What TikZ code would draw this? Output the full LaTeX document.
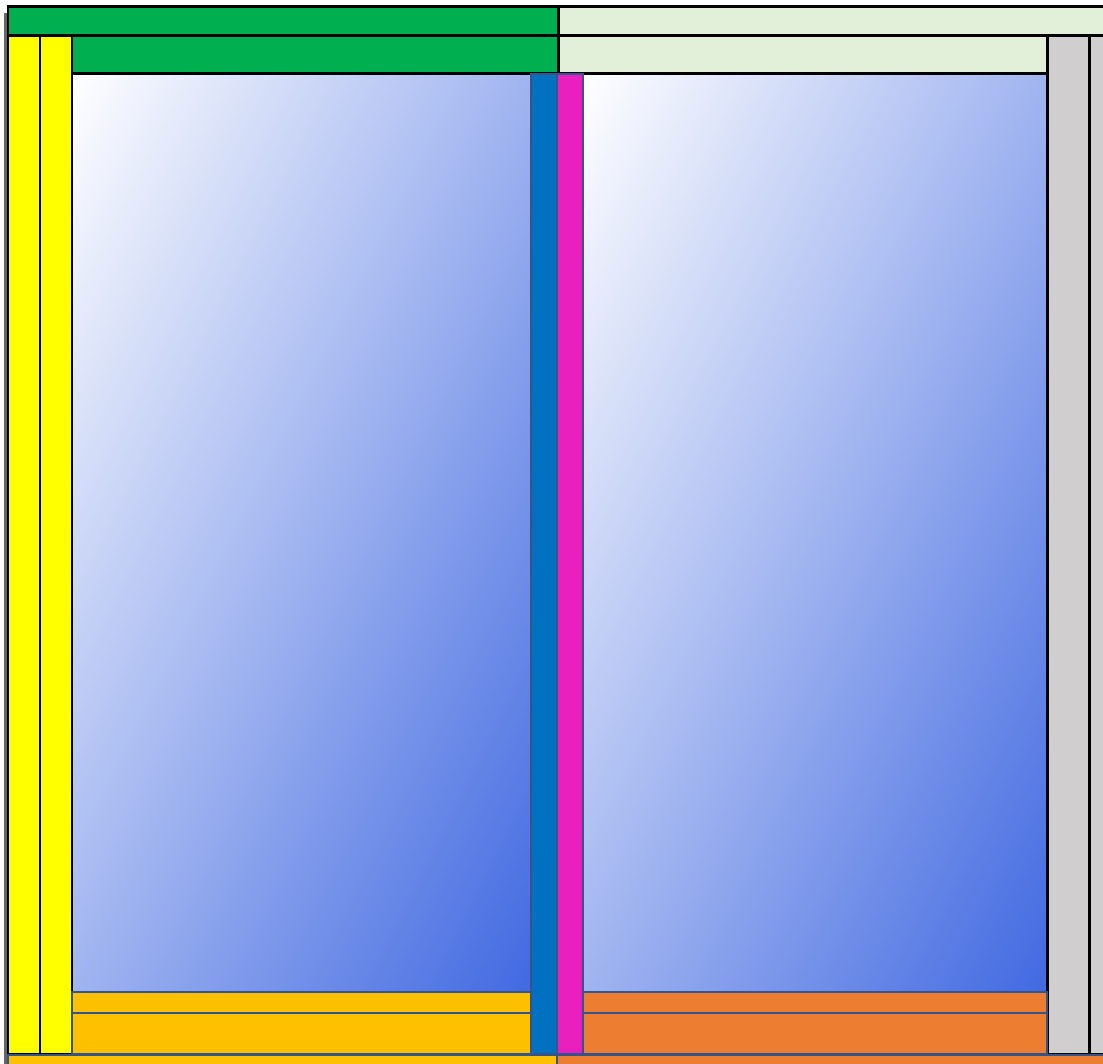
\documentclass[tikz,border=0pt]{standalone}
\usepackage{tikz}
\definecolor{frameGreen}{RGB}{0,176,80}
\definecolor{paleGreen}{RGB}{226,240,217}
\definecolor{jambYellow}{RGB}{255,255,0}
\definecolor{railAmber}{RGB}{255,192,0}
\definecolor{railOrange}{RGB}{237,125,49}
\definecolor{stileBlue}{RGB}{0,112,192}
\definecolor{stileMagenta}{RGB}{233,32,190}
\definecolor{jambGray}{RGB}{208,206,206}
\definecolor{glassBlue}{RGB}{65,105,225}
\definecolor{edgeBlue}{RGB}{52,84,140}

\begin{document}
\begin{tikzpicture}[x=0.01cm, y=-0.01cm,
    blk/.style={draw=black, line width=0.85pt},
    soft/.style={draw=edgeBlue, line width=0.6pt},
    glass/.style={left color=white, right color=glassBlue}]
  \useasboundingbox (0,0) rectangle (1103,1064);
  \clip (0,0) rectangle (1103,1064);
  % --- Glass panes (fade runs corner to corner) ---
  \begin{scope}
    \clip (72,74) rectangle (531,992);
    \begin{scope}[transform canvas={shift={(72,74)}, rotate=-26.57}]
      \shade[glass] (0,-1200) rectangle (821,1200);
    \end{scope}
  \end{scope}
  \begin{scope}
    \clip (583,74) rectangle (1047,992);
    \begin{scope}[transform canvas={shift={(583,74)}, rotate=-26.81}]
      \shade[glass] (0,-1200) rectangle (828,1200);
    \end{scope}
  \end{scope}
  \draw[soft] (531,74) -- (531,992) -- (72,992);
  \draw[soft] (583,74) -- (583,992) -- (1047,992);
  \draw[blk] (72,74) -- (72,992);
  \draw[blk] (1047,74) -- (1047,992);
  % --- Shadow at the left edge ---
  \draw[black!60, line width=0.6pt] (5.5,13) -- (5.5,1064);
  % --- Head: top bars ---
  \filldraw[blk, fill=frameGreen] (8,7) rectangle (558,36);
  \filldraw[blk, fill=paleGreen] (558,7) rectangle (1110,36);
  \filldraw[blk, fill=frameGreen] (72,36) rectangle (558,74);
  \filldraw[blk, fill=paleGreen] (558,36) rectangle (1047,74);
  % --- Jambs ---
  \filldraw[blk, fill=jambYellow] (8,36) rectangle (40,1054);
  \filldraw[blk, fill=jambYellow] (40,36) rectangle (72,1054);
  \filldraw[blk, fill=jambGray] (1047,36) rectangle (1089,1054);
  \filldraw[blk, fill=jambGray] (1089,36) rectangle (1110,1054);
  % --- Meeting stiles ---
  \filldraw[soft, fill=stileBlue] (531,74) rectangle (557,1054);
  \filldraw[soft, fill=stileMagenta] (557,74) rectangle (583,1054);
  % --- Bottom rails ---
  \filldraw[soft, fill=railAmber] (72,992) rectangle (531,1013);
  \filldraw[soft, fill=railAmber] (72,1013) rectangle (531,1054);
  \filldraw[soft, fill=railOrange] (583,992) rectangle (1047,1013);
  \filldraw[soft, fill=railOrange] (583,1013) rectangle (1047,1054);
  % --- Sill ---
  \filldraw[soft, fill=railAmber] (8,1055) rectangle (557,1072);
  \filldraw[soft, fill=railOrange] (557,1055) rectangle (1110,1072);
\end{tikzpicture}
\end{document}
